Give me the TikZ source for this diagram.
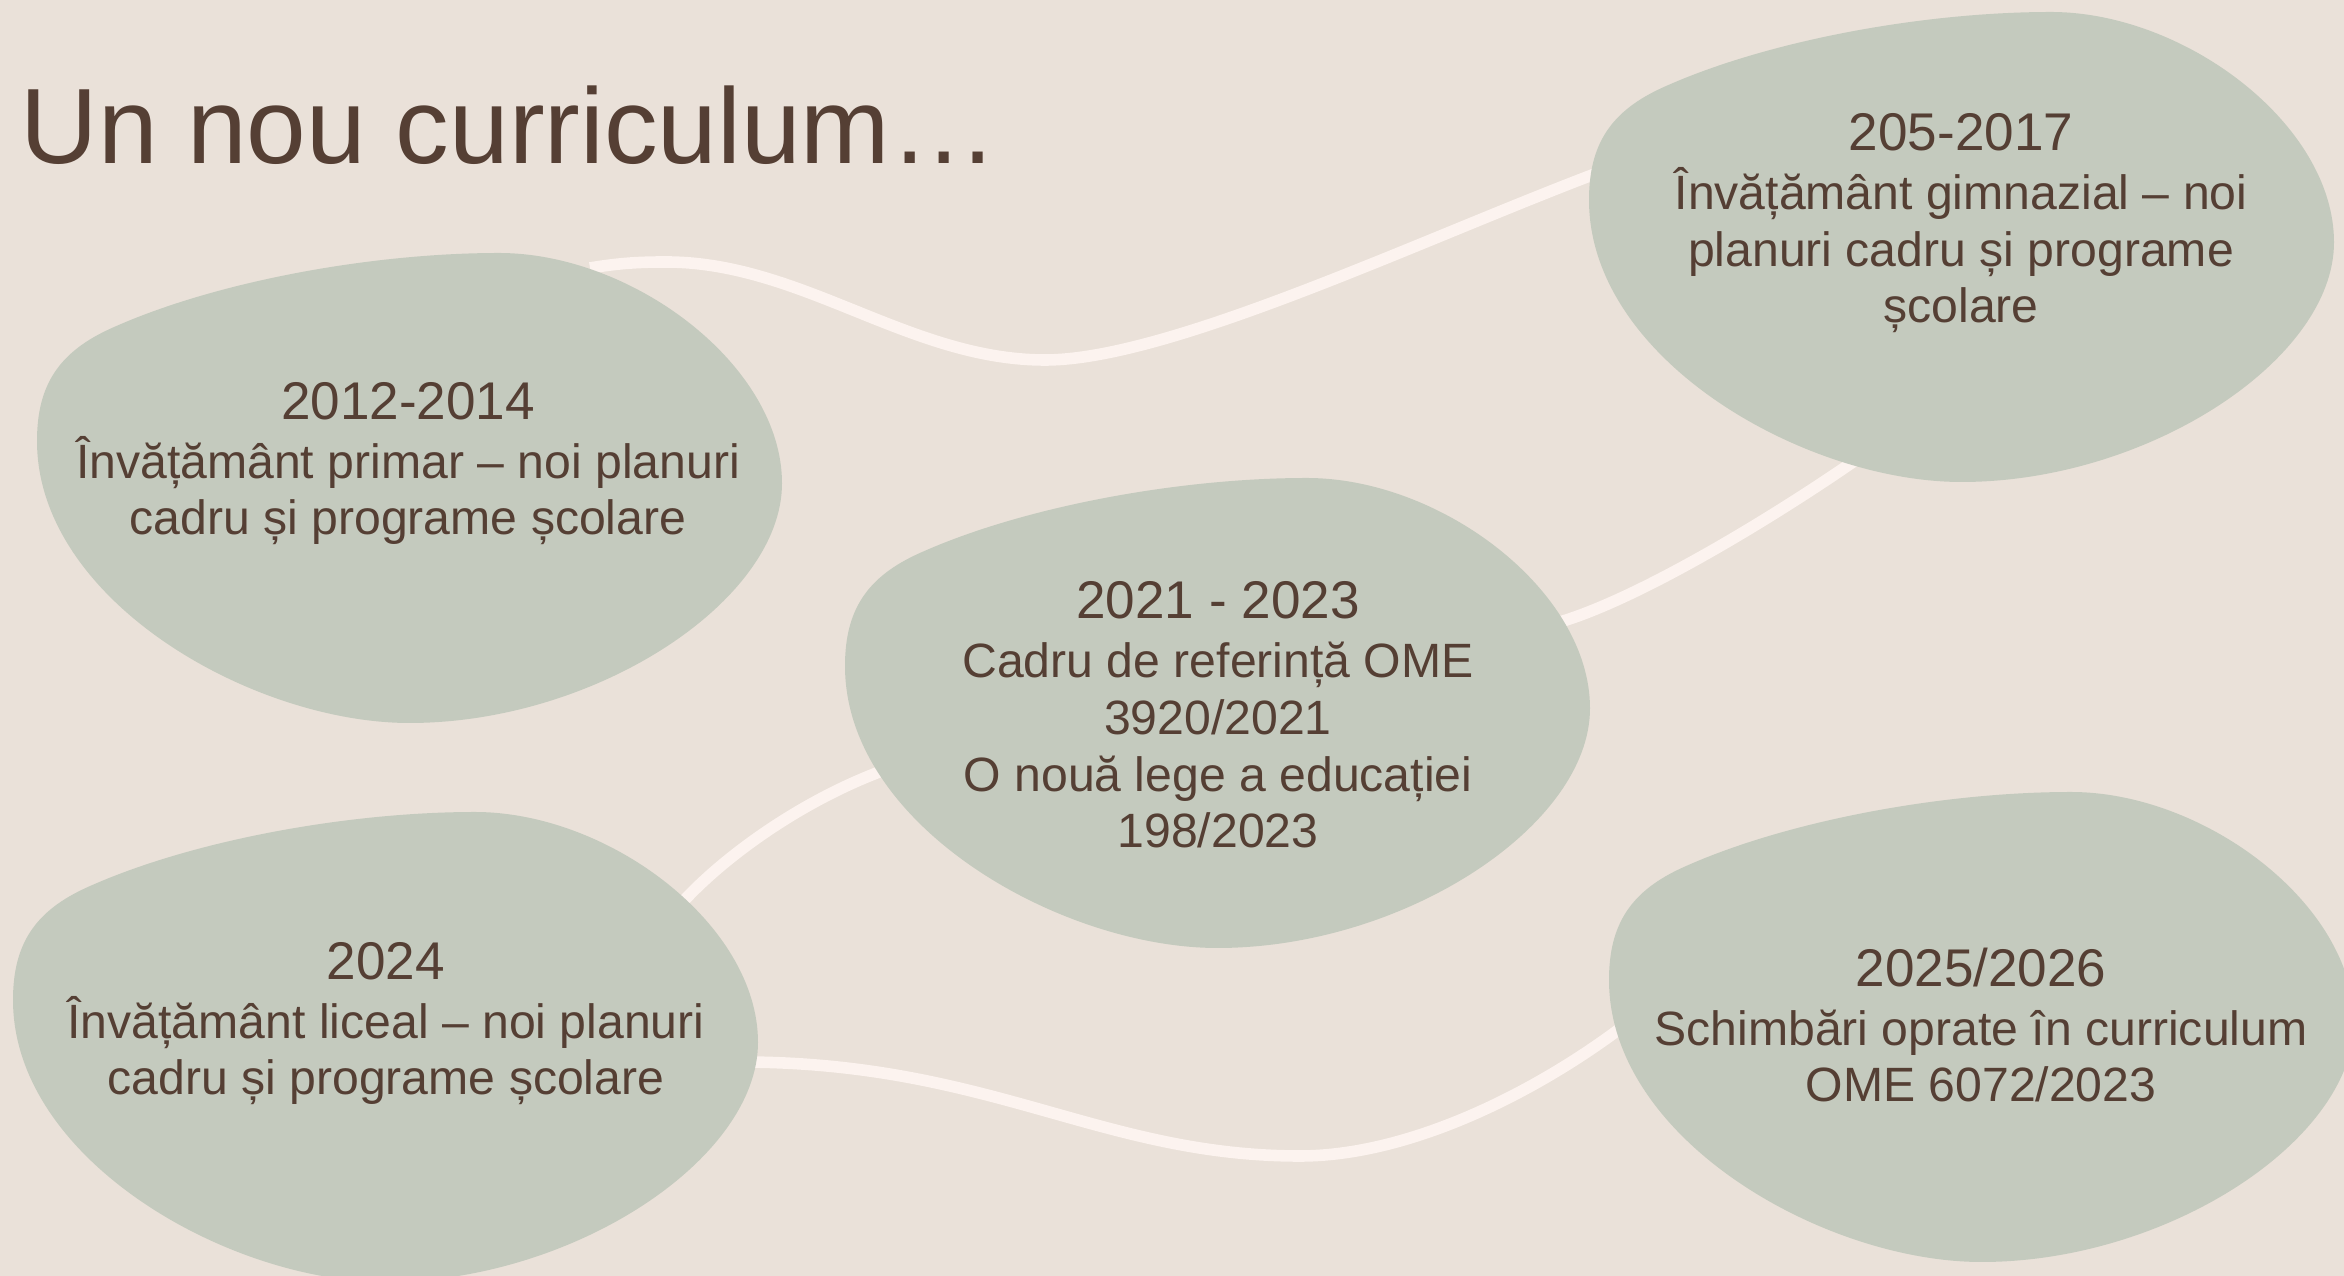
\documentclass[tikz,border=0pt]{standalone}
\usepackage{fontspec}
\setmainfont{Liberation Sans}
\definecolor{bgc}{HTML}{EAE1D9}
\definecolor{blobc}{HTML}{C4CABE}
\definecolor{txtc}{HTML}{553F34}
\definecolor{linkc}{HTML}{FCF3EF}
\tikzset{
  blobfill/.style={fill=blobc},
  link/.style={draw=linkc, line width=3.3pt},
  blobtext/.style={text=txtc, align=center, inner sep=0pt, anchor=base,
    font=\fontsize{13.7}{16.2}\selectfont},
  titletext/.style={text=txtc, inner sep=0pt, anchor=base west,
    font=\fontsize{30.5}{36}\selectfont}
}
\newcommand\hd[1]{{\fontsize{15.1}{17}\selectfont #1}}
\newcommand\myblob[2]{%
  \begin{scope}[shift={(#1,#2)},xscale=745,yscale=470]
    \fill[blobfill] (0,0.40)
      .. controls (0,0.28) and (0.03,0.21) .. (0.10,0.16)
      .. controls (0.24,0.06) and (0.45,0) .. (0.62,0)
      .. controls (0.80,0) and (1,0.24) .. (1,0.49)
      .. controls (1,0.74) and (0.75,1) .. (0.50,1)
      .. controls (0.29,1) and (0,0.74) .. (0,0.40) -- cycle;
  \end{scope}}
\begin{document}
\begin{tikzpicture}[x=0.1mm,y=-0.1mm]
  \fill[bgc] (0,0) rectangle (2344,1276);
  \useasboundingbox (0,0) rectangle (2344,1276);

  % connector end points (hidden under the blobs)
  \coordinate (a1) at (590,268);
  \coordinate (b1) at (1600,172);
  \coordinate (b2) at (1870,450);
  \coordinate (c2) at (1560,622);
  \coordinate (c3) at (890,768);
  \coordinate (d2) at (680,905);
  \coordinate (d1) at (740,1062);
  \coordinate (e1) at (1650,1005);

  % connectors
  \draw[link] (a1) .. controls (620,263) and (640,262) .. (666,262)
     .. controls (802,262) and (909,360) .. (1045,360)
     .. controls (1170,360) and (1420,240) .. (b1);
  \draw[link] (c2) .. controls (1650,595) and (1800,500) .. (b2);
  \draw[link] (d2) .. controls (720,860) and (800,800) .. (c3);
  \draw[link] (d1) .. controls (990,1062) and (1100,1156) .. (1300,1156)
     .. controls (1420,1156) and (1560,1080) .. (e1);

  % blobs
  \myblob{37}{253}
  \myblob{1589}{12}
  \myblob{845}{478}
  \myblob{13}{812}
  \myblob{1609}{792}

  % title
  \node[titletext] (title) at (20,164) {Un nou curriculum…};

  % texts (anchored at the baseline of the last line)
  \node[blobtext] (tA) at (408,535) {\hd{2012-2014}\\[0.6pt]
    Învățământ primar – noi planuri\\cadru și programe școlare};
  \node[blobtext] (tB) at (1961,323) {\hd{205-2017}\\[0.6pt]
    Învățământ gimnazial – noi\\planuri cadru și programe\\școlare};
  \node[blobtext] (tC) at (1218,848) {\hd{2021 - 2023}\\[0.6pt]
    Cadru de referință OME\\3920/2021\\O nouă lege a educației\\198/2023};
  \node[blobtext] (tD) at (386,1095) {\hd{2024}\\[0.6pt]
    Învățământ liceal – noi planuri\\cadru și programe școlare};
  \node[blobtext] (tE) at (1981,1102) {\hd{2025/2026}\\[0.6pt]
    Schimbări oprate în curriculum\\OME 6072/2023};
\end{tikzpicture}
\end{document}
